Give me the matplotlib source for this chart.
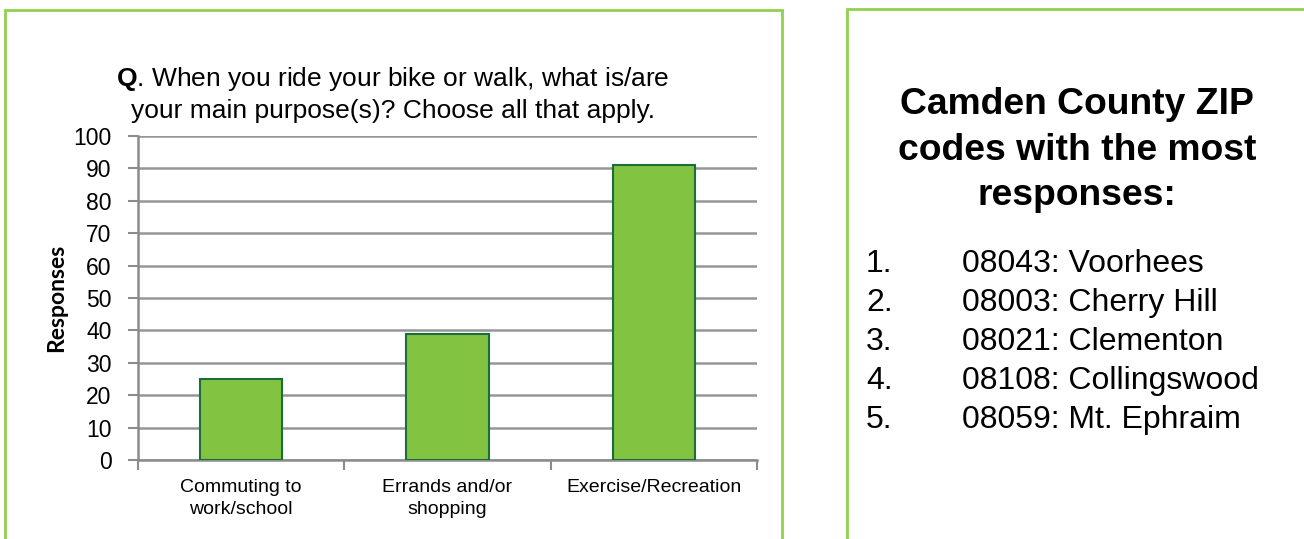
import matplotlib.pyplot as plt
from matplotlib.patches import Rectangle

# Data
categories = ["Commuting to\nwork/school", "Errands and/or\nshopping", "Exercise/Recreation"]
responses = [25, 39, 91]
y_ticks = [0, 10, 20, 30, 40, 50, 60, 70, 80, 90, 100]
zip_rank = ["1.", "2.", "3.", "4.", "5."]
zip_names = ["08043: Voorhees", "08003: Cherry Hill", "08021: Clementon",
             "08108: Collingswood", "08059: Mt. Ephraim"]

W, H = 1304, 539
arial = ["Liberation Sans", "DejaVu Sans"]
plt.rcParams["mathtext.fontset"] = "custom"
plt.rcParams["mathtext.bf"] = "Liberation Sans:bold"
plt.rcParams["mathtext.rm"] = "Liberation Sans"

def fx(px):
    return px / W

def fy(py):
    return 1 - py / H

fig = plt.figure(figsize=(W / 100, H / 100), dpi=100)
fig.patch.set_facecolor("white")

# green frames
fig.patches.append(Rectangle((fx(5), fy(560)), fx(777), (560 - 10) / H, transform=fig.transFigure,
                             fill=False, edgecolor="#92d050", linewidth=2))
fig.patches.append(Rectangle((fx(847), fy(560)), fx(480), (560 - 9) / H, transform=fig.transFigure,
                             fill=False, edgecolor="#92d050", linewidth=2))

# bar chart
ax = fig.add_axes([fx(138), fy(460), fx(757 - 138), (460 - 136) / H])
x = list(range(len(categories)))
ax.bar(x, responses, width=0.4, color="#82c341", edgecolor="#1a6e3a", linewidth=1.5, zorder=3)
ax.set_xlim(-0.5, 2.5)
ax.set_ylim(0, 100)
ax.set_yticks(y_ticks)
ax.set_yticklabels([str(t) for t in y_ticks], fontsize=16.5, family=arial)
ax.yaxis.grid(True, color="#969696", linewidth=1.8, zorder=0)
ax.set_xticks([-0.5, 0.5, 1.5, 2.5])
ax.set_xticklabels([])
ax.set_xticks(x, minor=True)
ax.set_xticklabels(categories, minor=True, fontsize=14, family=arial, linespacing=1.35)
ax.tick_params(axis="x", which="minor", length=0, pad=14)
ax.tick_params(axis="x", which="major", length=7, width=1.5, color="#8c8c8c", direction="out")
ax.tick_params(axis="y", length=7, width=1.5, color="#8c8c8c", pad=12)
for s in ["top", "right"]:
    ax.spines[s].set_visible(False)
for s in ["left", "bottom"]:
    ax.spines[s].set_color("#8c8c8c")
    ax.spines[s].set_linewidth(1.8)

fig.text(fx(57), fy(298), "Responses", rotation=90, ha="center", va="center",
         fontsize=16.5, fontweight="bold", family=["Lato", "DejaVu Sans"])

fig.text(fx(393), fy(94), r"$\mathbf{Q}$. When you ride your bike or walk, what is/are" + "\n"
         + "your main purpose(s)? Choose all that apply.",
         ha="center", va="center", fontsize=19, family=arial, linespacing=1.35)

# right panel
fig.text(fx(1077), fy(150), "Camden County ZIP\ncodes with the most\nresponses:",
         ha="center", va="center", fontsize=26.8, fontweight="bold", family=arial, linespacing=1.39)
for i, (r, n) in enumerate(zip(zip_rank, zip_names)):
    yy = fy(264 + 39 * i)
    fig.text(fx(866), yy, r, ha="left", va="center", fontsize=23, family=arial)
    fig.text(fx(962), yy, n, ha="left", va="center", fontsize=23, family=arial)

fig.savefig("out.png", dpi=100)
